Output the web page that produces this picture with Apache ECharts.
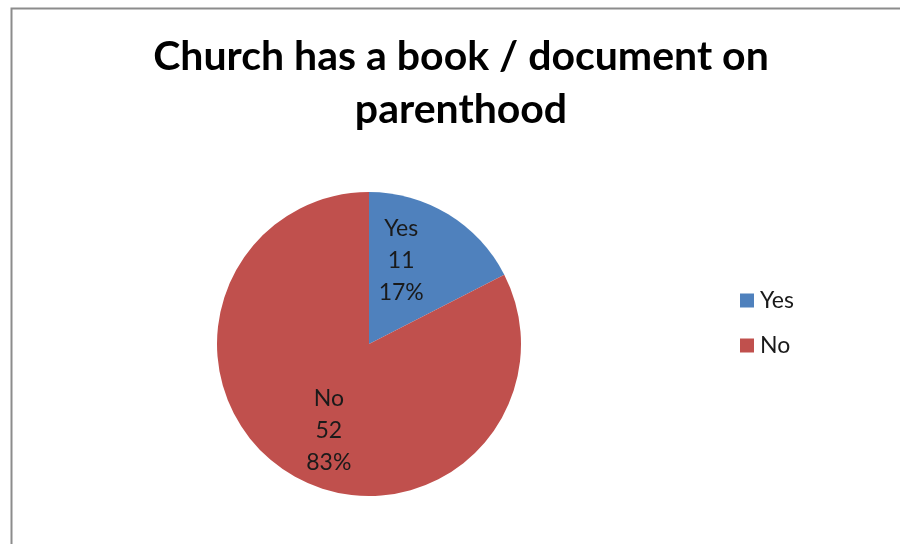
<!DOCTYPE html>
<html>
<head>
<meta charset="utf-8">
<script src="https://cdn.jsdelivr.net/npm/echarts@6/dist/echarts.min.js"></script>
<style>
html,body{margin:0;padding:0;background:#fff;}
#chart{width:900px;height:544px;}
</style>
</head>
<body>
<div id="chart"></div>
<script>
const categories = ['Yes', 'No'];
const values = [11, 52];
const percents = ['17%', '83%'];
const colors = ['#4F81BD', '#C0504D'];
const titleText = 'Church has a book / document on\nparenthood';

const FONT = 'Lato, "Open Sans", sans-serif';
const chart = echarts.init(document.getElementById('chart'), null, {renderer: 'canvas'});
const labelShift = [[-9, -16], [1, 19]];

chart.setOption({
  animation: false,
  backgroundColor: '#ffffff',
  graphic: [{
    type: 'rect',
    left: 9, top: 6,
    shape: {width: 900, height: 560},
    style: {fill: 'none', stroke: '#8c8c8c', lineWidth: 2},
    silent: true
  }],
  title: {
    text: titleText,
    left: 456, top: 25,
    textAlign: 'center',
    textStyle: {fontFamily: FONT, fontWeight: 'bold', fontSize: 41, color: '#000', lineHeight: 53}
  },
  legend: {
    orient: 'vertical',
    left: 735, top: 284,
    itemWidth: 14, itemHeight: 14,
    itemGap: 22,
    icon: 'rect',
    textStyle: {fontFamily: FONT, fontSize: 23, color: '#1a1a1a', padding: [0,0,0,1]},
    data: categories
  },
  series: [{
    type: 'pie',
    center: [369, 344],
    radius: 152,
    startAngle: 90,
    clockwise: true,
    data: categories.map((c, i) => ({name: c, value: values[i], itemStyle: {color: colors[i]}})),
    label: {
      show: true,
      position: 'inside',
      formatter: p => p.name + '\n' + p.value + '\n' + percents[p.dataIndex],
      fontFamily: FONT, fontSize: 23, color: '#1a1a1a', lineHeight: 32
    },
    labelLayout: p => ({dx: labelShift[p.dataIndex][0], dy: labelShift[p.dataIndex][1]}),
    labelLine: {show: false},
    itemStyle: {borderWidth: 0},
    emphasis: {disabled: true}
  }]
});
</script>
</body>
</html>
